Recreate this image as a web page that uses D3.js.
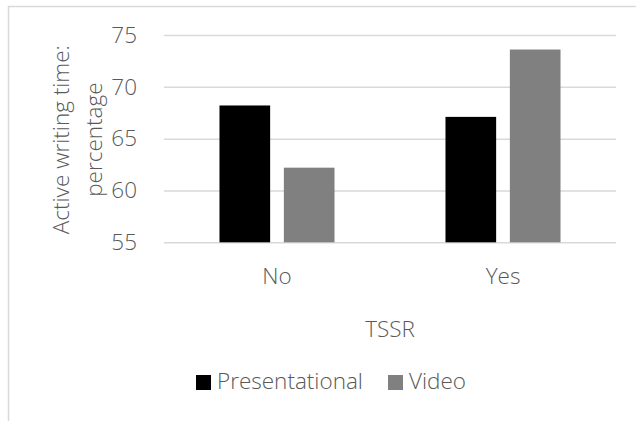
<!DOCTYPE html>
<html>
<head>
<meta charset="utf-8">
<script src="https://cdn.jsdelivr.net/npm/d3@7/dist/d3.min.js"></script>
<style>
  html, body { margin: 0; padding: 0; background: #fff; }
  svg { display: block; }
  text { font-family: "Open Sans", "Noto Sans", sans-serif; font-weight: 300; fill: #595959; }
</style>
</head>
<body>
<svg id="chart" width="636" height="421"></svg>
<script>
// Chart data
const categories = ["No", "Yes"];
const seriesNames = ["Presentational", "Video"];
const presentationalValues = [68.2, 67.1];
const videoValues = [62.2, 73.6];
const yTicks = [55, 60, 65, 70, 75];
const xAxisTitle = "TSSR";
const yAxisTitle = ["Active writing time:", "percentage"];
const seriesColors = ["#000000", "#808080"];

const rows = categories.map((c, i) => ({
  category: c,
  values: [presentationalValues[i], videoValues[i]]
}));

const svg = d3.select("#chart");
const W = 636, H = 421;
const FS = "22.5px";

// Chart area frame
svg.append("rect")
  .attr("x", 8.5).attr("y", 6.5)
  .attr("width", W).attr("height", H)
  .attr("fill", "none")
  .attr("stroke", "#d9d9d9")
  .attr("stroke-width", 1.5);

const plot = { left: 164, right: 616, top: 35, bottom: 242.3 };

const y = d3.scaleLinear()
  .domain([55, 75])
  .range([plot.bottom, plot.top]);

const x0 = d3.scaleBand()
  .domain(categories)
  .range([plot.left, plot.right])
  .paddingInner(0.491)
  .paddingOuter(0.2455);

const x1 = d3.scaleBand()
  .domain(seriesNames)
  .range([0, x0.bandwidth()])
  .paddingInner(0.213)
  .paddingOuter(0);

const color = d3.scaleOrdinal().domain(seriesNames).range(seriesColors);

// Gridlines and value labels
const yAxis = d3.axisLeft(y)
  .tickValues(yTicks)
  .tickSize(-(plot.right - plot.left))
  .tickPadding(27)
  .tickFormat(d3.format("d"));

const gy = svg.append("g")
  .attr("transform", `translate(${plot.left},0)`)
  .call(yAxis);
gy.select(".domain").remove();
gy.selectAll(".tick line")
  .attr("stroke", "#d9d9d9")
  .attr("stroke-width", 1.5);
gy.selectAll(".tick text")
  .attr("fill", "#595959")
  .style("font-size", FS)
  .attr("font-family", null);

// Bars
const groups = svg.append("g").selectAll("g")
  .data(rows)
  .join("g")
  .attr("transform", d => `translate(${x0(d.category)},0)`);

groups.selectAll("rect")
  .data(d => d.values.map((v, i) => ({ series: seriesNames[i], value: v })))
  .join("rect")
  .attr("x", d => x1(d.series))
  .attr("y", d => y(d.value))
  .attr("width", x1.bandwidth())
  .attr("height", d => y(55) - y(d.value))
  .attr("fill", d => color(d.series));

// Category axis labels
const xAxis = d3.axisBottom(x0).tickSize(0).tickPadding(26);
const gx = svg.append("g")
  .attr("transform", `translate(0,${plot.bottom})`)
  .call(xAxis);
gx.select(".domain").remove();
gx.selectAll(".tick text")
  .attr("fill", "#595959")
  .style("font-size", FS)
  .attr("font-family", null);

// Axis titles
svg.append("text")
  .attr("x", (plot.left + plot.right) / 2)
  .attr("y", 337)
  .attr("text-anchor", "middle")
  .style("font-size", FS)
  .text(xAxisTitle);

const yTitle = svg.append("text")
  .attr("transform", `translate(69,${(plot.top + plot.bottom) / 2 + 1}) rotate(-90)`)
  .attr("text-anchor", "middle")
  .style("font-size", FS);
yAxisTitle.forEach((line, i) => {
  yTitle.append("tspan")
    .attr("x", 0)
    .attr("dy", i === 0 ? 0 : 33)
    .text(line);
});

// Legend
const legendItems = [
  { name: seriesNames[0], sx: 196, tx: 217 },
  { name: seriesNames[1], sx: 388, tx: 409 }
];
const legend = svg.append("g");
legend.selectAll("rect")
  .data(legendItems)
  .join("rect")
  .attr("x", d => d.sx)
  .attr("y", 375)
  .attr("width", 15)
  .attr("height", 15)
  .attr("fill", d => color(d.name));
legend.selectAll("text")
  .data(legendItems)
  .join("text")
  .attr("x", d => d.tx)
  .attr("y", 389)
  .style("font-size", FS)
  .text(d => d.name);
</script>
</body>
</html>
